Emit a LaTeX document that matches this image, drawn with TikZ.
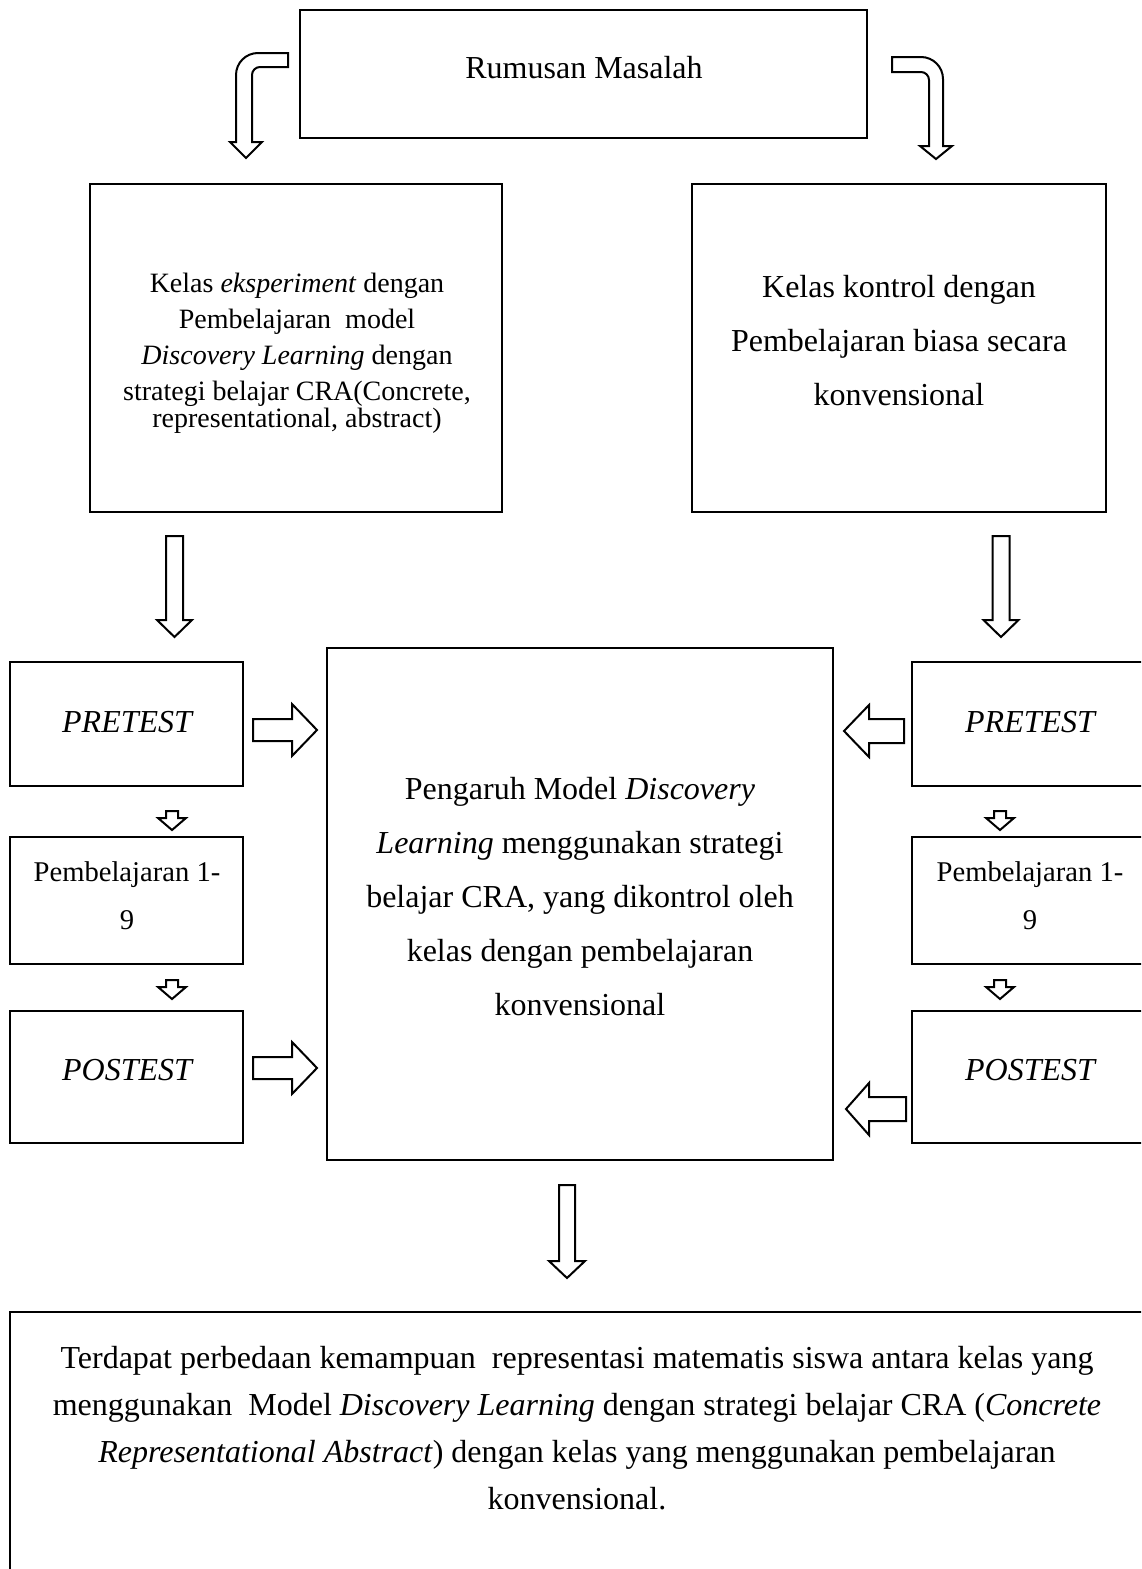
\documentclass[tikz,border=0pt]{standalone}
\usepackage{fontspec}
\setmainfont{Liberation Serif}
\begin{document}
\begin{tikzpicture}[x=1pt,y=1pt,
  box/.style={draw, line width=2.4pt, inner sep=0pt},
  barrow/.style={draw, line width=2pt, fill=white, line join=miter},
  txt/.style={align=center, inner sep=0pt, font=\fontsize{32}{54}\selectfont}]
\useasboundingbox (0,0) rectangle (1141,-1569);
\clip (0,0) rectangle (1141,-1569);
\fill[white] (0,0) rectangle (1141,-1569);

% boxes
\node[box, minimum width=567, minimum height=128] (rm) at (583.5,-74) {};
\node[box, minimum width=412, minimum height=328] (ke) at (296,-348) {};
\node[box, minimum width=414, minimum height=328] (kk) at (899,-348) {};
\node[box, minimum width=233, minimum height=124] (preL) at (126.5,-724) {};
\node[box, minimum width=233, minimum height=127] (pemL) at (126.5,-900.5) {};
\node[box, minimum width=233, minimum height=132] (posL) at (126.5,-1077) {};
\node[box, minimum width=506, minimum height=512] (pg) at (580,-904) {};
\node[box, minimum width=238, minimum height=124] (preR) at (1031,-724) {};
\node[box, minimum width=238, minimum height=127] (pemR) at (1031,-900.5) {};
\node[box, minimum width=238, minimum height=132] (posR) at (1031,-1077) {};
\node[box, minimum width=1136, minimum height=300] (res) at (578,-1462) {};

% texts
\node[txt] (rmt) at (584,-68) {Rumusan Masalah};
\node[txt, font=\fontsize{28}{36}\selectfont] (ket) at (297,-353) {Kelas \textit{eksperiment} dengan\\ Pembelajaran\ \ model\\ \textit{Discovery Learning} dengan\\ strategi belajar CRA(Concrete,\\[-9pt] representational, abstract)};
\node[txt] (kkt) at (899,-341) {Kelas kontrol dengan\\ Pembelajaran biasa secara\\ konvensional};
\node[txt] (preLt) at (128,-722) {\textit{PRETEST}};
\node[txt, font=\fontsize{28.6}{48}\selectfont] (pemLt) at (127,-896) {Pembelajaran 1-\\ 9};
\node[txt] (posLt) at (128,-1070) {\textit{POSTEST}};
\node[txt] (pgt) at (580,-897) {Pengaruh Model \textit{Discovery}\\ \textit{Learning} menggunakan strategi\\ belajar CRA, yang dikontrol oleh\\ kelas dengan pembelajaran\\ konvensional};
\node[txt] (preRt) at (1031,-722) {\textit{PRETEST}};
\node[txt, font=\fontsize{28.6}{48}\selectfont] (pemRt) at (1030,-896) {Pembelajaran 1-\\ 9};
\node[txt] (posRt) at (1031,-1070) {\textit{POSTEST}};
\node[txt, font=\fontsize{32}{47}\selectfont] (rest) at (577,-1428) {Terdapat perbedaan kemampuan\ \ representasi matematis siswa antara kelas yang\\ menggunakan\ \ Model \textit{Discovery Learning} dengan strategi belajar CRA (\textit{Concrete}\\ \textit{Representational Abstract}) dengan kelas yang menggunakan pembelajaran\\ konvensional.};

% bent arrows
\draw[barrow] (288,-53) -- (258,-53) arc[start angle=90, end angle=180, radius=22]
  -- (236,-142) -- (230,-142) -- (246,-158) -- (262,-142) -- (252,-142)
  -- (252,-75) arc[start angle=180, end angle=90, radius=8] -- (288,-67) -- cycle;
\draw[barrow] (892,-57) -- (921,-57) arc[start angle=90, end angle=0, radius=22]
  -- (943,-146) -- (952,-146) -- (936,-159) -- (920,-146) -- (929,-146)
  -- (929,-80) arc[start angle=0, end angle=90, radius=8] -- (892,-72) -- cycle;

% big down arrows
\draw[barrow] (166,-536) -- (166,-620) -- (157,-620) -- (174.5,-637) -- (192,-620) -- (183,-620) -- (183,-536) -- cycle;
\draw[barrow] (992.5,-536) -- (992.5,-620) -- (983.5,-620) -- (1001,-637) -- (1018.5,-620) -- (1009.5,-620) -- (1009.5,-536) -- cycle;
\draw[barrow] (559,-1185) -- (559,-1261) -- (549,-1261) -- (567,-1278) -- (585,-1261) -- (575,-1261) -- (575,-1185) -- cycle;

% small down arrows
\draw[barrow] (166,-811) -- (166,-818) -- (158,-818) -- (172,-830) -- (186,-818) -- (178,-818) -- (178,-811) -- cycle;
\draw[barrow] (166,-980) -- (166,-987) -- (158,-987) -- (172,-999) -- (186,-987) -- (178,-987) -- (178,-980) -- cycle;
\draw[barrow] (994,-811) -- (994,-818) -- (986,-818) -- (1000,-830) -- (1014,-818) -- (1006,-818) -- (1006,-811) -- cycle;
\draw[barrow] (994,-980) -- (994,-987) -- (986,-987) -- (1000,-999) -- (1014,-987) -- (1006,-987) -- (1006,-980) -- cycle;

% horizontal arrows
\draw[barrow] (253,-719) -- (292,-719) -- (292,-704) -- (317,-730) -- (292,-756) -- (292,-741) -- (253,-741) -- cycle;
\draw[barrow] (253,-1057) -- (292,-1057) -- (292,-1042) -- (317,-1068) -- (292,-1094) -- (292,-1079) -- (253,-1079) -- cycle;
\draw[barrow] (904,-719) -- (869,-719) -- (869,-705) -- (844,-731) -- (869,-757) -- (869,-743) -- (904,-743) -- cycle;
\draw[barrow] (906,-1097) -- (869,-1097) -- (869,-1083) -- (846,-1109) -- (869,-1135) -- (869,-1121) -- (906,-1121) -- cycle;
\end{tikzpicture}
\end{document}
